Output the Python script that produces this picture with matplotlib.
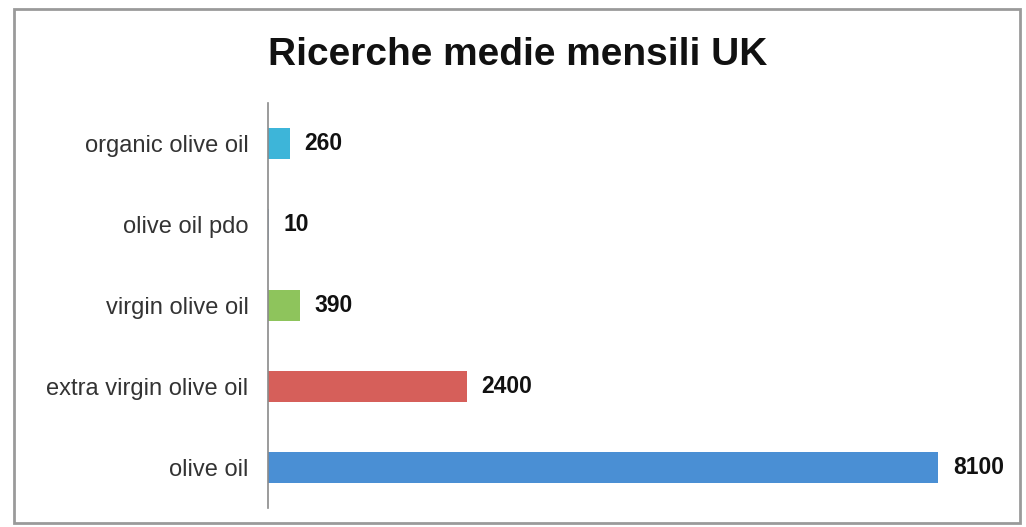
#=========================================================================
# ricerche-uk-plot.py
#=========================================================================

import matplotlib.pyplot as plt
from matplotlib.patches import Rectangle
import numpy as np

#-------------------------------------------------------------------------
# Configure matplotlib
#-------------------------------------------------------------------------

plt.rcParams['font.family'] = ['Liberation Sans', 'DejaVu Sans']

#-------------------------------------------------------------------------
# Data (average monthly searches, UK)
#-------------------------------------------------------------------------

keywords = [
  'olive oil',
  'extra virgin olive oil',
  'virgin olive oil',
  'olive oil pdo',
  'organic olive oil',
]

searches = [ 8100, 2400, 390, 10, 260 ]

colors = [ '#4a8fd4', '#d65f5a', '#8ec45c', '#9dbbe0', '#3db5d9' ]

#-------------------------------------------------------------------------
# Create plot
#-------------------------------------------------------------------------

fig = plt.figure( figsize=(10.26, 5.27), dpi=100 )
ax  = fig.add_axes( [0.2612, 0.036, 0.714, 0.7686] )

ind = np.arange( len(keywords) )
ax.barh( ind, searches, height=0.38, color=colors )

for i, val in enumerate( searches ):
  ax.annotate( str(val), xy=(val, i), xytext=(10.5, 0),
               textcoords='offset points', va='center', ha='left',
               fontsize=16.5, fontweight='bold', color='#111111' )

ax.set_yticks( ind )
ax.set_yticklabels( keywords, fontsize=17, color='#333333' )
ax.tick_params( axis='y', length=0, pad=14 )
ax.set_xticks( [] )

ax.set_ylim( -0.5, len(keywords) - 0.5 )
ax.set_xlim( 0, 8850 )

for side in [ 'top', 'right', 'bottom' ]:
  ax.spines[side].set_visible(False)
ax.spines['left'].set_color('#8a8a8a')
ax.spines['left'].set_linewidth(1.2)

fig.text( 0.505, 0.895, 'Ricerche medie mensili UK', ha='center',
          va='center', fontsize=28, fontweight='bold', color='#111111' )

# Frame around the chart
fig.patches.append( Rectangle( (0.014, 0.008), 0.98, 0.975,
                               transform=fig.transFigure, fill=False,
                               edgecolor='#9a9a9a', linewidth=2.0 ) )

plt.savefig( 'out.png', dpi=100 )
